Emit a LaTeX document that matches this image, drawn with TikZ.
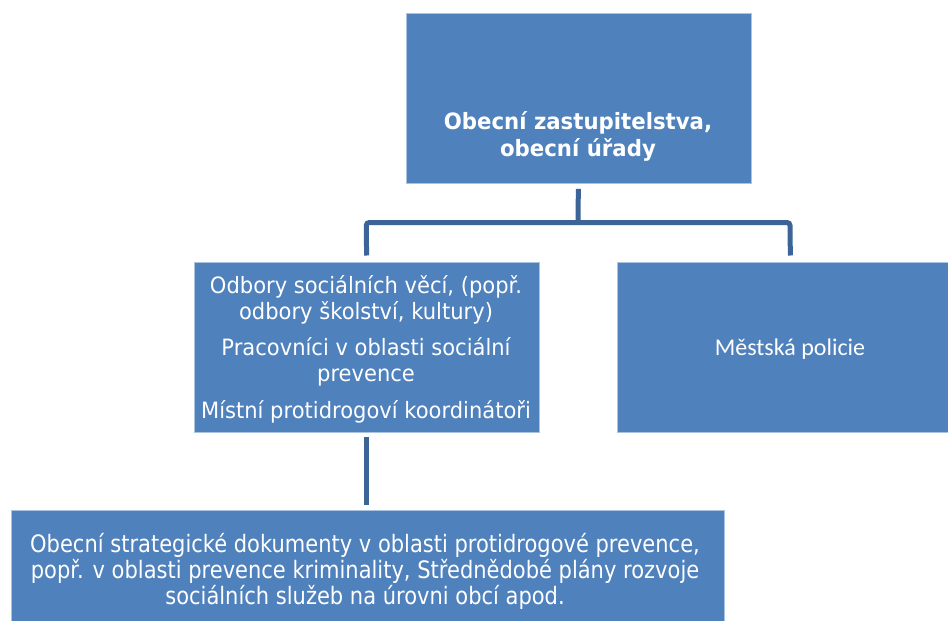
\documentclass[tikz,border=0pt]{standalone}
\usepackage{fontspec}
\setmainfont{DejaVu Sans}[FakeStretch=0.935]
\newfontfamily\boldfam{DejaVu Sans}[FakeStretch=0.945]
\newfontfamily\calfont{Carlito}
\newfontfamily\condfont{DejaVu Sans}[FakeStretch=0.875]
\definecolor{boxblue}{RGB}{79,129,189}
\definecolor{boxedge}{RGB}{170,195,225}
\definecolor{linkblue}{RGB}{60,100,150}
\begin{document}
\begin{tikzpicture}[x=1pt,y=-1pt,
  box/.style={draw=boxedge, line width=0.8pt, fill=boxblue, inner sep=0pt, anchor=north west},
  txt/.style={text=white, inner sep=0pt, anchor=base, font=\fontsize{22.5}{26}\selectfont},
  boldtxt/.style={txt, font=\fontsize{22.5}{26}\selectfont\boldfam\bfseries},
  caltxt/.style={txt, font=\fontsize{24}{28}\selectfont\calfont},
  condtxt/.style={txt, font=\fontsize{24}{26}\selectfont\condfont},
  link/.style={draw=linkblue, line width=5pt, rounded corners=3pt}]
\useasboundingbox (0,0) rectangle (948,621);
\fill[white] (0,0) rectangle (948,621);
\clip (0,0) rectangle (948,621);

% boxes
\node[box, minimum width=345, minimum height=170] (top) at (405.5,13) {};
\node[box, minimum width=345.5, minimum height=170] (mid) at (193.5,261.5) {};
\node[box, minimum width=346, minimum height=170] (right) at (617,261.5) {};
\node[box, minimum width=713, minimum height=130] (bot) at (10.5,510) {};

% texts
\node[boldtxt] (t1) at (578,129) {Obecní zastupitelstva,};
\node[boldtxt] (t2) at (578,156) {obecní úřady};

\node[txt] (m1) at (366,293) {Odbory sociálních věcí, (popř.};
\node[txt] (m2) at (366,319) {odbory školství, kultury)};
\node[txt] (m3) at (366,355) {Pracovníci v oblasti sociální};
\node[txt] (m4) at (366,381) {prevence};
\node[txt] (m5) at (366,418) {Místní protidrogoví koordinátoři};

\node[caltxt] (r1) at (790,355) {Městská policie};

\node[condtxt] (b1) at (365,552) {Obecní strategické dokumenty v oblasti protidrogové prevence,};
\node[condtxt] (b2) at (365,578) {popř. v oblasti prevence kriminality, Střednědobé plány rozvoje};
\node[condtxt] (b3) at (365,604) {sociálních služeb na úrovni obcí apod.};

% connectors
\coordinate (jc) at (578,222.5);
\coordinate (jl) at (366.25,222.5);
\coordinate (jr) at (790,222.5);
\draw[link, shorten <=5pt] (top.south) -- (jc);
\draw[link, shorten <=6pt, shorten >=6pt] (mid.north) -- (jl) -- (jr) -- (right.north);
\draw[link, shorten <=5pt, shorten >=5pt] (mid.south) -- (mid.south |- bot.north);
\end{tikzpicture}
\end{document}
